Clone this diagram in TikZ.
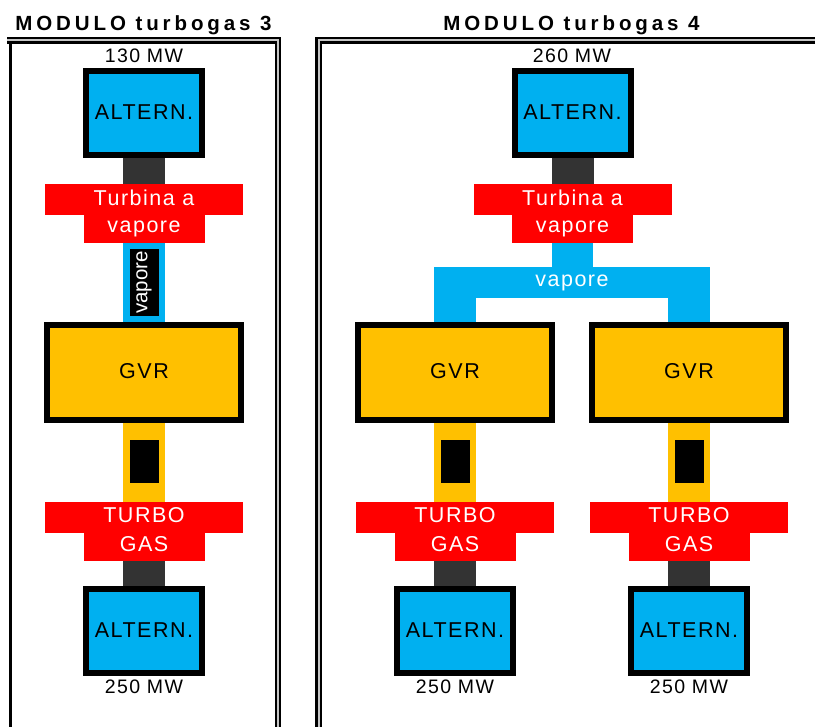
\documentclass[tikz,border=0pt]{standalone}
\usepackage{fontspec}
\setmainfont{Liberation Sans}
\newfontfamily\lab[LetterSpace=7]{Liberation Sans}
\newfontfamily\vlab{Liberation Sans}
\newfontfamily\ttl[LetterSpace=19]{Liberation Sans}
\usetikzlibrary{calc}
\definecolor{cblue}{HTML}{00B0F0}
\definecolor{cyel}{HTML}{FFC000}
\definecolor{cred}{HTML}{FF0000}
\definecolor{cdark}{HTML}{333333}
\pgfdeclarelayer{back}
\pgfdeclarelayer{bg}
\pgfsetlayers{back,bg,main}
\begin{document}
\begin{tikzpicture}[x=1pt,y=-1pt,
  box/.style={draw=black,line width=6pt,inner sep=0pt,outer sep=0pt},
  altbox/.style={box,fill=cblue,minimum width=116pt,minimum height=84pt},
  gvrbox/.style={box,fill=cyel,minimum width=194pt,minimum height=95pt},
  redw/.style={fill=cred,inner sep=0pt,outer sep=0pt,minimum width=198pt,minimum height=31pt},
  redn/.style={fill=cred,inner sep=0pt,outer sep=0pt,minimum width=121pt,minimum height=28pt},
  blk/.style={fill=black,inner sep=0pt,outer sep=0pt,minimum width=29pt,minimum height=43pt},
  txt/.style={anchor=base,inner sep=0pt,font=\lab\fontsize{21.5}{25}\selectfont},
  wtxt/.style={txt,text=white},
  mw/.style={anchor=base,inner sep=0pt,font=\lab\fontsize{19.5}{23}\selectfont},
  ttlt/.style={anchor=base,inner sep=0pt,font=\ttl\bfseries\fontsize{20.5}{24}\selectfont},
  shaft/.style={line width=42pt,draw=cdark},
  steam/.style={line width=42pt,draw=cblue},
  gas/.style={line width=42pt,draw=cyel},
  frame/.style={draw=black,line width=2.3pt,double=gray!45,double distance=2pt},
  bar/.style={fill=cblue,inner sep=0pt,outer sep=0pt,minimum width=276pt,minimum height=31pt},
]
\useasboundingbox (0,0) rectangle (815,727);
\begin{pgfonlayer}{back}
\fill[white] (0,0) rectangle (815,727);
\end{pgfonlayer}

% frames
\draw[frame] (7,40.5) -- (278,40.5) -- (278,760);
\draw[line width=2.5pt] (10.5,42) -- (10.5,760);
\draw[frame] (840,40.5) -- (318.75,40.5) -- (318.75,760);

% titles
\node[ttlt] (t3) at (143.5,31) {MODULO turbogas 3};
\node[ttlt] (t4) at (571.5,31) {MODULO turbogas 4};

% ---------- module 3 ----------
\node[altbox] (a3t) at (144,113) {};
\node[redw] (tv3w) at (144,199.5) {};
\node[redn] (tv3n) at (144,229) {};
\node[fill=black,rotate=90,minimum width=67pt,minimum height=29pt,inner sep=0pt,
      text=white,font=\vlab\fontsize{20.5}{24}\selectfont] (v3) at (144,282.5) {vapore};
\node[gvrbox] (g3) at (144,372.5) {};
\node[blk] (k3) at (144,461.5) {};
\node[redw] (tg3w) at (144,517.5) {};
\node[redn] (tg3n) at (144,547) {};
\node[altbox] (a3b) at (144,631) {};

\node[mw] (p3t) at (144,63) {130 MW};
\node[txt] (l3a) at (144,120) {ALTERN.};
\node[wtxt] (l3b) at (144,206) {Turbina a};
\node[wtxt] (l3c) at (144,233) {vapore};
\node[txt] (l3d) at (144,379) {GVR};
\node[wtxt] (l3e) at (144,523) {TURBO};
\node[wtxt] (l3f) at (144,551) {GAS};
\node[txt] (l3g) at (144,637) {ALTERN.};
\node[mw] (p3b) at (144,693) {250 MW};

% ---------- module 4 top ----------
\node[altbox] (a4t) at (572.5,113) {};
\node[redw] (tv4w) at (572.5,199.5) {};
\node[redn] (tv4n) at (572.5,229) {};
\node[bar] (vap4) at (572,282.5) {};
\node[mw] (p4t) at (572,63) {260 MW};
\node[txt] (l4a) at (572.5,120) {ALTERN.};
\node[wtxt] (l4b) at (572.5,206) {Turbina a};
\node[wtxt] (l4c) at (572.5,233) {vapore};
\node[wtxt] (l4v) at (572,287) {vapore};

% ---------- module 4 left ----------
\node[gvrbox] (g4l) at (455,372.5) {};
\node[blk] (k4l) at (455,461.5) {};
\node[redw] (tg4lw) at (455,517.5) {};
\node[redn] (tg4ln) at (455,547) {};
\node[altbox] (a4l) at (455,631) {};
\node[txt] (l4d) at (455,379) {GVR};
\node[wtxt] (l4e) at (455,523) {TURBO};
\node[wtxt] (l4f) at (455,551) {GAS};
\node[txt] (l4g) at (455,637) {ALTERN.};
\node[mw] (p4l) at (455,693) {250 MW};

% ---------- module 4 right ----------
\node[gvrbox] (g4r) at (689,372.5) {};
\node[blk] (k4r) at (689,461.5) {};
\node[redw] (tg4rw) at (689,517.5) {};
\node[redn] (tg4rn) at (689,547) {};
\node[altbox] (a4r) at (689,631) {};
\node[txt] (l4h) at (689,379) {GVR};
\node[wtxt] (l4i) at (689,523) {TURBO};
\node[wtxt] (l4j) at (689,551) {GAS};
\node[txt] (l4k) at (689,637) {ALTERN.};
\node[mw] (p4r) at (689,693) {250 MW};

% ---------- connectors (behind) ----------
\begin{pgfonlayer}{bg}
  % module 3
  \draw[shaft] (a3t.south) -- (a3t.south |- tv3w.north);
  \draw[steam] (tv3n.south) -- (tv3n.south |- g3.north);
  \draw[gas] (g3.south) -- (g3.south |- tg3w.north);
  \draw[shaft] (tg3n.south) -- (tg3n.south |- a3b.north);
  % module 4 top
  \draw[shaft] (a4t.south) -- (a4t.south |- tv4w.north);
  \draw[steam,line width=41pt] (tv4n.south) -- (tv4n.south |- vap4.center);
  \draw[steam] (g4l.north) -- (g4l.north |- vap4.center);
  \draw[steam] (g4r.north) -- (g4r.north |- vap4.center);
  % module 4 left
  \draw[gas] (g4l.south) -- (g4l.south |- tg4lw.north);
  \draw[shaft] (tg4ln.south) -- (tg4ln.south |- a4l.north);
  % module 4 right
  \draw[gas] (g4r.south) -- (g4r.south |- tg4rw.north);
  \draw[shaft] (tg4rn.south) -- (tg4rn.south |- a4r.north);
\end{pgfonlayer}
\end{tikzpicture}
\end{document}
